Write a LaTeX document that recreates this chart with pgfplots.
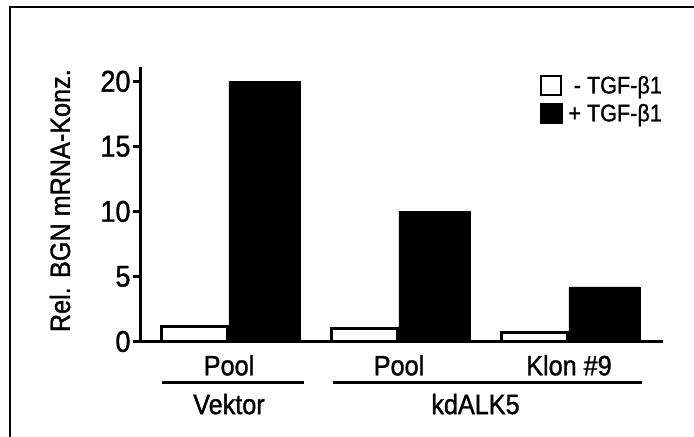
\documentclass[border=0pt]{standalone}
\usepackage{fontspec}
\setmainfont{Liberation Sans}[FakeStretch=0.9, FakeBold=1.2]
\usepackage{pgfplots}
\pgfplotsset{compat=1.18}
\newcommand{\lbl}{\fontsize{28bp}{33bp}\selectfont}
\begin{document}
\begin{tikzpicture}
\useasboundingbox (0bp,0bp) rectangle (694bp,-437bp);
% frame (cut off on the right and at the bottom)
\draw[line width=2.2bp] (9.7bp,-437bp) -- (9.7bp,-6.7bp) -- (694bp,-6.7bp);
\begin{axis}[
    at={(140bp,-341.5bp)}, anchor=south west,
    scale only axis, width=523bp, height=274.5bp,
    xmin=-0.5235, xmax=2.553,
    ymin=0, ymax=21.1,
    axis x line=bottom, axis y line=left,
    axis line style={-, line width=3bp},
    axis on top,
    clip=false,
    ytick={0,5,10,15,20},
    xtick={0,1,2},
    xticklabels={Pool, Pool, Klon \#9},
    tick align=outside,
    major tick length=7bp,
    ytick style={line width=2.5bp, black},
    xtick style={draw=none},
    tick label style={font=\lbl},
    yticklabel style={xshift=1bp, font=\fontsize{30bp}{34bp}\selectfont},
    xticklabel style={yshift=-3bp},
    /pgf/number format/assume math mode=true,
    ylabel={Rel. BGN mRNA-Konz.},
    ylabel style={at={(axis description cs:-0.153,0.513)}, anchor=center,
        font=\lbl},
    legend style={at={(axis description cs:1.002,0.975)}, anchor=north east,
        draw=none, fill=none, inner sep=0pt, row sep=5bp, column sep=4bp,
        font=\fontsize{24bp}{28bp}\selectfont},
    legend cell align=right,
]

% - TGF-beta1
\addplot[ybar, bar width=66bp, bar shift=-34.25bp, fill=white, draw=black,
    line width=2.5bp,
    legend image code/.code={\draw[fill=white, draw=black, line width=1.8bp]
        (0.9bp,-9.1bp) rectangle (21.1bp,9.1bp);}]
    coordinates {(0,1.15) (1,1.0) (2,0.7)};
\addlegendentry{- TGF-β1}

% + TGF-beta1
\addplot[ybar, bar width=71bp, bar shift=35.5bp, fill=black, draw=black,
    line width=0.3bp,
    legend image code/.code={\fill[black] (0bp,-10bp) rectangle (22bp,10bp);}]
    coordinates {(0,20) (1,10) (2,4.2)};
\addlegendentry{+ TGF-β1}

% group brackets below the categories
\draw[line width=3.3bp] (axis cs:-0.395,-3.17) -- (axis cs:0.439,-3.17);
\draw[line width=3.3bp] (axis cs:0.609,-3.17) -- (axis cs:2.428,-3.17);
\node[anchor=base, font=\lbl] at (axis cs:0,-5.58) {Vektor};
\node[anchor=base, font=\lbl] at (axis cs:1.45,-5.58) {kdALK5};
\end{axis}
\end{tikzpicture}
\end{document}
